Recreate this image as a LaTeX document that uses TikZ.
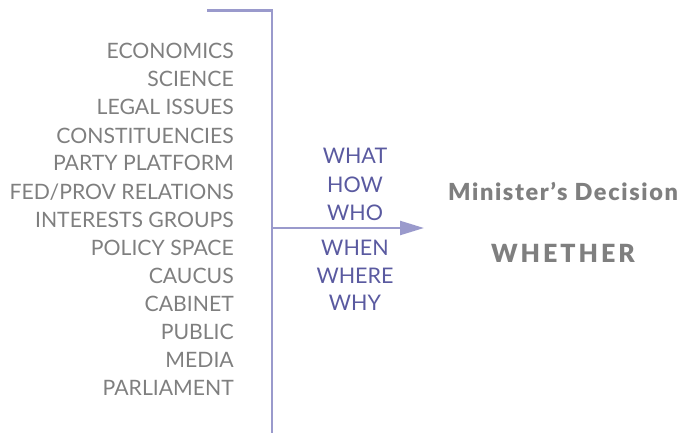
\documentclass[tikz,border=0pt]{standalone}
\usepackage{fontspec}
\setmainfont{Lato}
\newfontfamily\heavyfont{Lato Black}
\usetikzlibrary{arrows.meta}
\definecolor{factorgray}{HTML}{7F7F7F}
\definecolor{askblue}{HTML}{5A5AA0}
\definecolor{linelav}{HTML}{9A9ACC}
\begin{document}
\begin{tikzpicture}[x=1pt,y=-1pt,
  factor/.style={anchor=base east,text=factorgray,font=\fontsize{21.2}{21.2}\selectfont,inner sep=0pt},
  ask/.style={anchor=base,text=askblue,font=\fontsize{21.5}{21.5}\selectfont,inner sep=0pt},
  decision/.style={anchor=base,text=factorgray,inner sep=0pt},
  rail/.style={draw=linelav,line width=2.4pt}]
\useasboundingbox (0,0) rectangle (680,433);
% bracket collecting the factors
\coordinate (topl) at (207,10.5);
\coordinate (topr) at (272,10.5);
\coordinate (bot) at (272,433);
\coordinate (junc) at (272,228);
\coordinate (tip) at (424,228);
\draw[rail] (topl) -- (topr) -- (bot);
\draw[rail,-{Triangle[length=24pt,width=14pt]}] (junc) -- (tip);
% factors
\foreach \t [count=\i from 0] in {ECONOMICS,SCIENCE,LEGAL ISSUES,CONSTITUENCIES,PARTY PLATFORM,FED/PROV RELATIONS,INTERESTS GROUPS,POLICY SPACE,CAUCUS,CABINET,PUBLIC,MEDIA,PARLIAMENT}
  \node[factor] (f\i) at (234,{59+28*\i}) {\t};
% questions
\node[ask] (what) at (355,164) {WHAT};
\node[ask] (how) at (355,192) {HOW};
\node[ask] (who) at (355,220) {WHO};
\node[ask] (when) at (355,255) {WHEN};
\node[ask] (where) at (355,283) {WHERE};
\node[ask] (why) at (355,310) {WHY};
% outcome
\node[decision,font=\heavyfont\fontsize{23.5}{23.5}\selectfont\addfontfeature{LetterSpace=7}] (dec) at (563,200) {Minister’s Decision};
\node[decision,font=\heavyfont\fontsize{25}{25}\selectfont\addfontfeature{LetterSpace=12}] (whether) at (563,262) {WHETHER};
\end{tikzpicture}
\end{document}
